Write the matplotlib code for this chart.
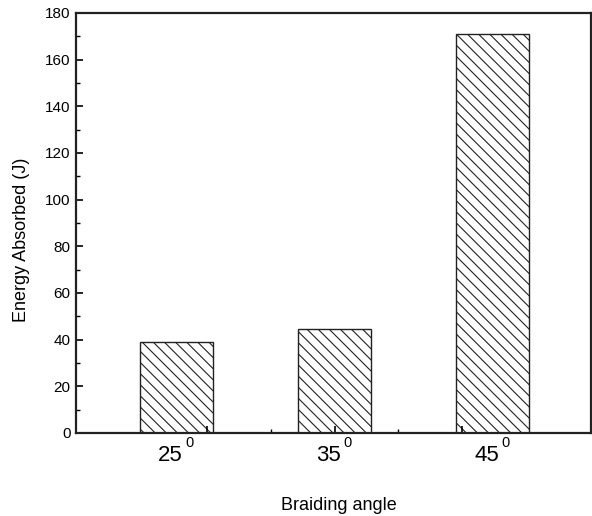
import numpy as np
import matplotlib.pyplot as plt
from matplotlib.ticker import MultipleLocator, FixedLocator

plt.rcParams["font.family"] = ["Liberation Sans", "DejaVu Sans"]
plt.rcParams["hatch.linewidth"] = 0.8

angles = ["25", "35", "45"]
energy = [39, 44.5, 171]

pos = np.arange(1, len(angles) + 1)

fig = plt.figure(figsize=(5.92, 5.16), dpi=100)
# axes box: x 76..591 px, y 13..433 px
ax = fig.add_axes([76 / 592, 1 - 433 / 516, 515 / 592, 420 / 516])

ax.bar(pos, energy, width=0.462, color="white", edgecolor="#222222",
       linewidth=1.0, hatch="\\\\\\")

ax.set_xlim(0.364, 3.623)
ax.set_ylim(0, 180)

ax.yaxis.set_major_locator(MultipleLocator(20))
ax.yaxis.set_minor_locator(MultipleLocator(10))
# ticks of the original sit slightly off the bars
ax.xaxis.set_major_locator(FixedLocator([1.193, 2.0, 2.807]))
ax.xaxis.set_minor_locator(FixedLocator([1.596, 2.404]))
ax.set_xticklabels([])
ax.tick_params(axis="both", which="major", direction="in", length=5,
               width=1.2, labelsize=11, pad=4)
ax.tick_params(axis="both", which="minor", direction="in", length=3,
               width=1.0)
ax.tick_params(axis="x", which="both", top=False)
ax.tick_params(axis="y", which="both", right=False)
for s in ax.spines.values():
    s.set_linewidth(1.6)
    s.set_color("#222222")

# category labels with superscript 0
for p, a in zip(pos, angles):
    ax.annotate(a, xy=(p, 0), xycoords="data", xytext=(-6, -12),
                textcoords="offset pixels", ha="center", va="top",
                fontsize=16, annotation_clip=False)
    ax.annotate("0", xy=(p, 0), xycoords="data", xytext=(9, -17),
                textcoords="offset pixels", ha="left", va="bottom",
                fontsize=10.5, annotation_clip=False)

fig.text(22 / 592, 1 - 240 / 516, "Energy Absorbed (J)", rotation=90,
         ha="center", va="center", fontsize=13)
fig.text(339 / 592, 1 - 505 / 516, "Braiding angle", ha="center",
         va="center", fontsize=13)

fig.savefig("out.png", dpi=100)
